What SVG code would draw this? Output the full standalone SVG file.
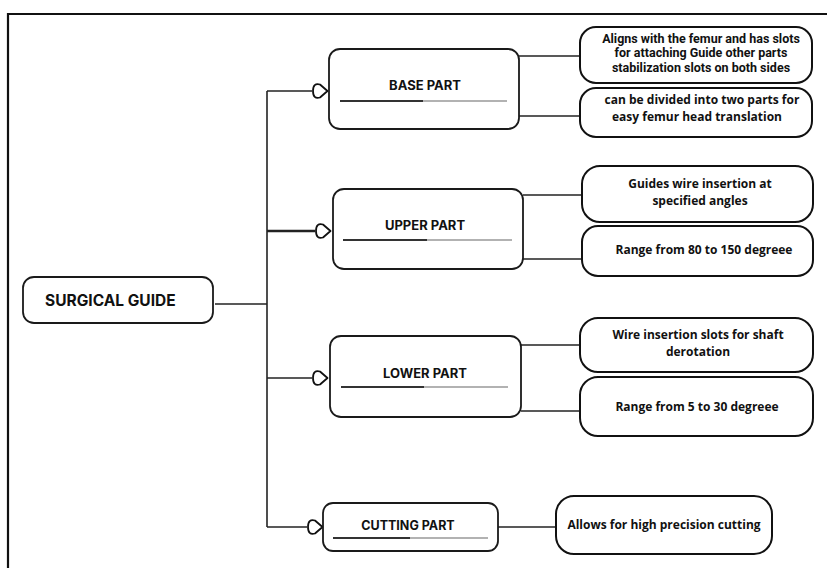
<svg xmlns="http://www.w3.org/2000/svg" width="827" height="568" viewBox="0 0 827 568">
<defs>
<style>
.frame{fill:none;stroke:#111;stroke-width:2.2}
.part{fill:#fff;stroke:#1a1a1a;stroke-width:1.8}
.detail{fill:#fff;stroke:#111;stroke-width:2}
.conn{fill:none;stroke:#222;stroke-width:1.6}
.thick{stroke-width:2.6}
.ulD{stroke:#333;stroke-width:2}
.ulL{stroke:#999;stroke-width:1.4}
.title{font-family:Inter,"Liberation Sans",sans-serif;font-weight:700;font-size:13px;fill:#111;text-anchor:middle}
.root{font-family:Inter,"Liberation Sans",sans-serif;font-weight:700;font-size:15.5px;fill:#111}
.dt{font-family:"Open Sans","Liberation Sans",sans-serif;font-weight:700;font-size:12px;fill:#111;text-anchor:middle}
.dn{font-family:Roboto,"Liberation Sans",sans-serif;font-weight:700;font-size:12.5px;fill:#111;text-anchor:middle}
</style>
<marker id="head" viewBox="0 -8 17 16" refX="0" refY="0" markerWidth="17" markerHeight="16" markerUnits="userSpaceOnUse" orient="auto">
<path d="M15.5,0 L8,-6.5 Q1,-8.5 1,0 Q1,8.5 8,6.5 Z" fill="#fff" stroke="#111" stroke-width="1.8" stroke-linejoin="round"/>
</marker>
</defs>
<rect width="827" height="568" fill="#fff"/>
<path class="frame" d="M8,575 L8,14 L830,14"/>

<g id="connectors">
<line class="conn" x1="215" y1="304" x2="267" y2="304"/>
<line class="conn" x1="267" y1="91" x2="267" y2="527"/>
<line class="conn" x1="267" y1="91" x2="312" y2="91" marker-end="url(#head)"/>
<line class="conn thick" x1="267" y1="231" x2="315" y2="231" marker-end="url(#head)"/>
<line class="conn" x1="267" y1="378" x2="312" y2="378" marker-end="url(#head)"/>
<line class="conn" x1="267" y1="527" x2="307" y2="527" marker-end="url(#head)"/>
<line class="conn" x1="519" y1="56" x2="580" y2="56"/>
<line class="conn" x1="519" y1="116" x2="580" y2="116"/>
<line class="conn" x1="523" y1="195" x2="582" y2="195"/>
<line class="conn" x1="523" y1="259" x2="582" y2="259"/>
<line class="conn" x1="521" y1="345" x2="580" y2="345"/>
<line class="conn" x1="521" y1="411" x2="580" y2="411"/>
<line class="conn" x1="498" y1="527" x2="556" y2="527"/>
</g>

<g id="surgical-guide">
<rect class="part" x="23" y="277" width="190" height="46" rx="11"/>
<text class="root" x="45" y="305.5">SURGICAL GUIDE</text>
</g>

<g id="base-part">
<rect class="part" x="329" y="49" width="190" height="80" rx="11"/>
<text class="title" x="425" y="89.5">BASE PART</text>
<line class="ulD" x1="340" y1="101" x2="423" y2="101"/>
<line class="ulL" x1="423" y1="101" x2="507" y2="101"/>
</g>

<g id="upper-part">
<rect class="part" x="333" y="189" width="190" height="80" rx="11"/>
<text class="title" x="425" y="229.5">UPPER PART</text>
<line class="ulD" x1="343" y1="240" x2="427" y2="240"/>
<line class="ulL" x1="427" y1="240" x2="512" y2="240"/>
</g>

<g id="lower-part">
<rect class="part" x="330" y="336" width="191" height="81" rx="11"/>
<text class="title" x="425" y="377.5">LOWER PART</text>
<line class="ulD" x1="341" y1="387" x2="424" y2="387"/>
<line class="ulL" x1="424" y1="387" x2="508" y2="387"/>
</g>

<g id="cutting-part">
<rect class="part" x="323" y="503" width="175" height="48" rx="10"/>
<text class="title" x="408" y="529.5" style="font-size:12.5px">CUTTING PART</text>
<line class="ulD" x1="333" y1="538" x2="410" y2="538"/>
<line class="ulL" x1="410" y1="538" x2="488" y2="538"/>
</g>

<g id="base-detail-1">
<rect class="detail" x="580" y="27" width="232" height="56" rx="16"/>
<text class="dn"><tspan x="701" y="42.5">Aligns with the femur and has slots</tspan><tspan x="701" y="57.3">for attaching  Guide other parts</tspan><tspan x="701" y="72.1">stabilization slots on both sides</tspan></text>
</g>

<g id="base-detail-2">
<rect class="detail" x="580" y="88" width="232" height="49" rx="16"/>
<text class="dt"><tspan x="702" y="104">can be divided into two parts for</tspan><tspan x="697" y="120.6">easy femur head translation</tspan></text>
</g>

<g id="upper-detail-1">
<rect class="detail" x="582" y="166" width="231" height="56" rx="18"/>
<text class="dt"><tspan x="700" y="188">Guides wire insertion at</tspan><tspan x="700" y="204.6">specified angles</tspan></text>
</g>

<g id="upper-detail-2">
<rect class="detail" x="582" y="226" width="231" height="50" rx="16"/>
<text class="dt" x="704" y="254">Range from 80 to 150 degreee</text>
</g>

<g id="lower-detail-1">
<rect class="detail" x="580" y="318" width="233" height="54" rx="18"/>
<text class="dt"><tspan x="698" y="339">Wire insertion slots for  shaft</tspan><tspan x="698" y="356">derotation</tspan></text>
</g>

<g id="lower-detail-2">
<rect class="detail" x="580" y="377" width="233" height="59" rx="18"/>
<text class="dt" x="697" y="411">Range from 5 to 30 degreee</text>
</g>

<g id="cutting-detail">
<rect class="detail" x="556" y="496" width="216" height="58" rx="18"/>
<text class="dt" x="664" y="529">Allows for high precision cutting</text>
</g>
</svg>
